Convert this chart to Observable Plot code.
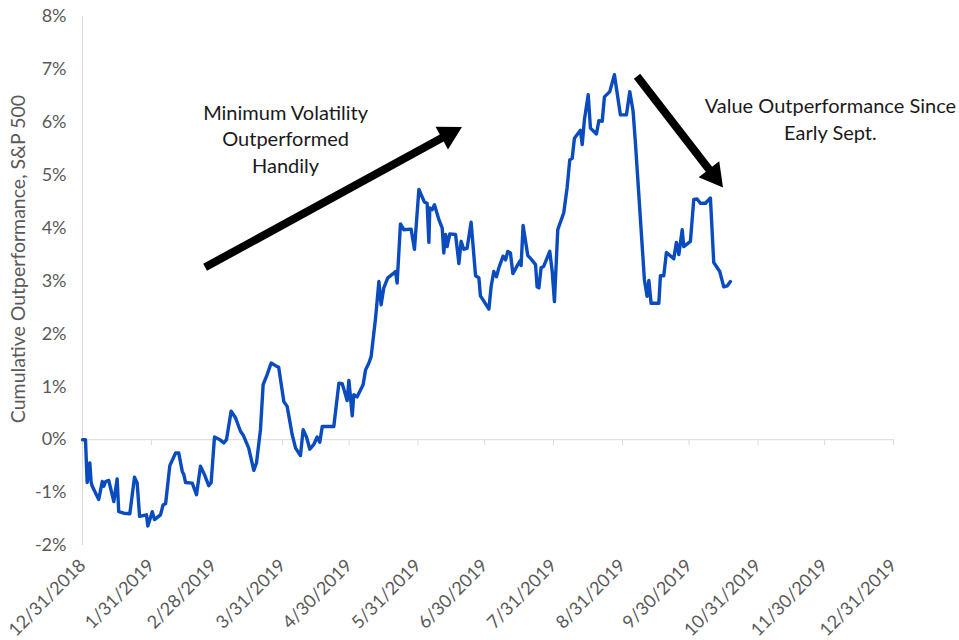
<!DOCTYPE html>
<html>
<head>
<meta charset="utf-8">
<script src="https://cdn.jsdelivr.net/npm/d3@7"></script>
<script src="https://cdn.jsdelivr.net/npm/@observablehq/plot@0.6"></script>
<style>
  html, body { margin: 0; padding: 0; background: #ffffff; }
  #chart svg { display: block; }
</style>
</head>
<body>
<div id="chart"></div>
<script>
// ---------- data ----------
const startDate = "2018-12-31";
const tickDates = ["2018-12-31","2019-01-31","2019-02-28","2019-03-31","2019-04-30","2019-05-31",
  "2019-06-30","2019-07-31","2019-08-31","2019-09-30","2019-10-31","2019-11-30","2019-12-31"];
const yTicks = [-2,-1,0,1,2,3,4,5,6,7,8];
const yLabel = "Cumulative Outperformance, S&P 500";
const note1 = "Minimum Volatility\nOutperformed\nHandily";
const note2 = "Value Outperformance Since\nEarly Sept.";

// days elapsed since 12/31/2018
const dayOffsets = [
  0,1.35,2.1,3.3,3.9,4.4,7.3,8.9,9.6,10.4,11.8,14.1,15.6,16.3,18.6,21.3,23.4,24.6,25.7,28.8,
  29.4,31.4,32.4,35.1,36.3,37.4,39.3,41.9,43.3,44.9,45.6,46.4,49.4,51.3,53.1,54.9,56.8,57.9,59.4,61.8,
  63.6,64.8,66.9,68.9,71.1,72.3,74.8,77.1,78.3,80.1,81.3,83.1,84.9,86.9,88.3,90.6,92.1,94.4,95.9,98.1,
  99.3,100.8,102.3,104.1,105.6,106.8,107.9,113.1,115.4,116.9,119.1,119.9,121.4,122.1,123.6,126.3,127.4,128.9,129.9,131.9,
  133.4,134.4,135.6,137.4,140.1,140.9,141.6,143.1,144.6,147.9,149.4,151.4,153.9,155.1,155.9,156.3,157.4,158.4,160.4,161.9,
  162.6,163.4,164.1,165.3,167.9,169.4,170.4,171.6,173.1,174.9,176.9,178.4,179.1,180.9,182.9,183.9,185.1,186.3,187.4,189.3,
  190.4,191.4,192.6,193.7,194.9,195.9,197.1,197.4,198.3,200.4,201.6,203.9,204.6,205.4,206.4,207.6,210.3,211.4,212.4,213.9,
  216.6,218.1,219.3,220.4,221.4,224.1,224.9,225.9,227.6,228.6,231.3,232.4,233.9,234.9,237.3,239.4,242.1,244.8,246.3,247.8,
  248.9,252.9,254.1,254.9,255.9,259.4,260.1,261.6,262.8,266.1,267.3,268.4,269.9,270.6,273.6,275.1,276.6,278.1,280.4,282.6,
  284.1,286.8,288.6,290.2,291.6
];
// cumulative outperformance, percent
const outperformance = [
  0.00,0.00,-0.81,-0.44,-0.81,-0.88,-1.13,-0.79,-0.88,-0.79,-0.77,-1.17,-0.74,-1.36,-1.39,-1.40,-0.71,-0.82,-1.45,-1.42,
  -1.63,-1.36,-1.51,-1.42,-1.23,-1.21,-0.49,-0.25,-0.25,-0.60,-0.66,-0.81,-0.82,-1.04,-0.50,-0.66,-0.87,-0.81,0.05,0.00,
  -0.06,0.00,0.54,0.41,0.16,0.09,-0.16,-0.58,-0.44,0.19,1.04,1.23,1.45,1.40,1.37,0.72,0.63,0.09,-0.16,-0.30,
  0.19,0.05,-0.18,-0.09,0.05,-0.05,0.25,0.25,1.07,1.06,0.74,1.12,0.45,0.85,0.81,1.04,1.32,1.45,1.57,2.30,
  2.99,2.55,2.87,3.06,3.15,3.18,2.96,4.08,3.97,3.98,3.60,4.73,4.49,4.47,3.73,4.38,4.35,4.44,4.16,4.00,
  3.53,3.88,3.65,3.89,3.88,3.33,3.75,3.60,3.62,4.11,3.10,3.06,2.72,2.60,2.47,2.89,3.18,3.08,3.25,3.47,
  3.40,3.56,3.53,3.14,3.23,3.31,3.39,3.29,4.05,3.48,3.43,3.31,2.89,2.87,3.25,3.28,3.56,3.18,2.61,3.97,
  4.29,4.76,5.29,5.32,5.70,5.85,5.58,6.05,6.52,5.89,5.78,6.03,6.02,6.48,6.58,6.90,6.14,6.14,6.58,6.21,
  5.58,3.02,2.71,3.01,2.58,2.58,3.10,3.10,3.54,3.42,3.73,3.50,3.97,3.65,3.75,4.54,4.55,4.47,4.47,4.57,
  3.35,3.18,2.89,2.91,2.99
];

// ---------- build ----------
const t0 = Date.parse(startDate + "T00:00:00Z");
const dayToDate = d => new Date(t0 + d * 864e5);
const data = dayOffsets.map((d, i) => ({date: dayToDate(d), value: outperformance[i]}));
const ticks = tickDates.map(s => new Date(s + "T00:00:00Z"));
const fmtDate = d => `${d.getUTCMonth() + 1}/${d.getUTCDate()}/${d.getUTCFullYear()}`;

const FONT = "Lato, 'Open Sans', sans-serif";
const GRAY = "#595959";
const AXIS = "#d9d9d9";

function arrow(fromDay, fromVal, toDay, toVal) {
  return (index, scales) => {
    const x1 = scales.x(dayToDate(fromDay)), y1 = scales.y(fromVal);
    const x2 = scales.x(dayToDate(toDay)), y2 = scales.y(toVal);
    const dx = x2 - x1, dy = y2 - y1, L = Math.hypot(dx, dy);
    const ux = dx / L, uy = dy / L, px = -uy, py = ux;
    const hl = 23, hw = 13, sw = 4;
    const bx = x2 - ux * hl, by = y2 - uy * hl;
    const pts = [
      [x1 + px * sw, y1 + py * sw], [bx + px * sw, by + py * sw], [bx + px * hw, by + py * hw],
      [x2, y2], [bx - px * hw, by - py * hw], [bx - px * sw, by - py * sw], [x1 - px * sw, y1 - py * sw]
    ];
    const path = document.createElementNS("http://www.w3.org/2000/svg", "path");
    path.setAttribute("d", "M" + pts.map(p => p[0].toFixed(2) + "," + p[1].toFixed(2)).join("L") + "Z");
    path.setAttribute("fill", "#000000");
    return path;
  };
}

const chart = Plot.plot({
  width: 959,
  height: 640,
  marginTop: 16,
  marginBottom: 95,
  marginLeft: 82,
  marginRight: 66,
  style: {fontFamily: FONT, background: "#ffffff"},
  x: {type: "utc", domain: [ticks[0], ticks[ticks.length - 1]]},
  y: {domain: [-2, 8]},
  marks: [
    Plot.ruleY([0], {stroke: AXIS, strokeWidth: 1}),
    Plot.ruleX([ticks[0]], {stroke: AXIS, strokeWidth: 1}),
    Plot.ruleX(ticks, {x: d => d, y1: 0, y2: -0.11, stroke: AXIS, strokeWidth: 1}),
    Plot.axisY({ticks: yTicks, tickFormat: d => d + "%", tickSize: 0, tickPadding: 16,
      fontSize: 18, fill: GRAY, label: null}),
    Plot.axisX({ticks: ticks, tickFormat: fmtDate, tickRotate: -45, tickSize: 0, tickPadding: 17,
      fontSize: 18, fill: GRAY, label: null, anchor: "bottom"}),
    Plot.text([yLabel], {text: d => d, frameAnchor: "left", textAnchor: "middle", rotate: -90,
      dx: -64, dy: -22, fontSize: 19.5, fill: GRAY}),
    Plot.line(data, {x: "date", y: "value", stroke: "#0a4cbd", strokeWidth: 3.4, strokeLinejoin: "round"}),
    arrow(55.4, 3.25, 171.0, 5.90),
    arrow(249.8, 6.86, 288.5, 4.76),
    Plot.text([note1], {x: () => dayToDate(91.4), y: () => 5.71, text: d => d, fontSize: 20,
      lineHeight: 1.33, fill: "#1a1a1a", textAnchor: "middle"}),
    Plot.text([note2], {x: () => dayToDate(336.6), y: () => 6.08, text: d => d, fontSize: 20,
      lineHeight: 1.33, fill: "#1a1a1a", textAnchor: "middle"})
  ]
});
document.getElementById("chart").appendChild(chart);
</script>
</body>
</html>
